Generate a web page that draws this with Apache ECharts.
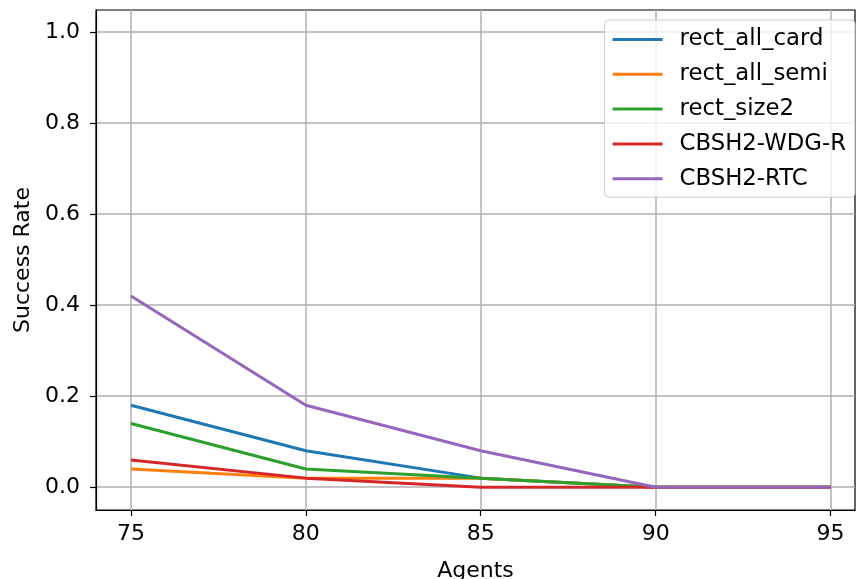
<!DOCTYPE html>
<html><head><meta charset="utf-8">
<script src="https://cdn.jsdelivr.net/npm/echarts@6/dist/echarts.min.js"></script>
<style>html,body{margin:0;padding:0;background:#fff}#c{width:856px;height:579px}</style>
</head><body><div id="c"></div>
<script>
const agents = [75, 80, 85, 90, 95];
const rectAllCard = [0.18, 0.08, 0.02, 0.0, 0.0];
const rectAllSemi = [0.04, 0.02, 0.02, 0.0, 0.0];
const rectSize2 = [0.14, 0.04, 0.02, 0.0, 0.0];
const cbsh2WdgR = [0.06, 0.02, 0.0, 0.0, 0.0];
const cbsh2Rtc = [0.42, 0.18, 0.08, 0.0, 0.0];
const xTicks = [75, 80, 85, 90, 95];
const yTicks = [0.0, 0.2, 0.4, 0.6, 0.8, 1.0];
const names = ['rect_all_card','rect_all_semi','rect_size2','CBSH2-WDG-R','CBSH2-RTC'];
const colors = ['#1f77b4','#ff7f0e','#2ca02c','#d62728','#9467bd'];
const values = [rectAllCard, rectAllSemi, rectSize2, cbsh2WdgR, cbsh2Rtc];
const font = 'DejaVu Sans';
const chart = echarts.init(document.getElementById('c'), null, {renderer:'canvas'});
chart.setOption({
  animation: false,
  textStyle: {fontFamily: font},
  grid: {left: 96, right: 1, top: 10, bottom: 69, show: true, borderColor: '#000', borderWidth: 1.2,
    containLabel: false, outerBoundsMode: 'none'},
  xAxis: {
    type: 'value', min: 74, max: 95.7,
    name: 'Agents', nameLocation: 'middle', nameGap: 50,
    nameTextStyle: {fontSize: 22, color: '#000', fontFamily: font},
    axisLine: {show: true, onZero: false, lineStyle: {color: '#000', width: 1.2}},
    axisTick: {show: true, length: 6, customValues: xTicks, lineStyle: {color: '#000', width: 1.2}},
    axisLabel: {customValues: xTicks, fontSize: 22, color: '#000', margin: 13, fontFamily: font},
    splitLine: {show: true, customValues: xTicks, lineStyle: {color: '#b0b0b0', width: 1.5}}
  },
  yAxis: {
    type: 'value', min: -0.05, max: 1.0483,
    name: 'Success Rate', nameLocation: 'middle', nameGap: 60, nameRotate: 90,
    nameTextStyle: {fontSize: 22, color: '#000', fontFamily: font},
    axisLine: {show: true, lineStyle: {color: '#000', width: 1.2}},
    axisTick: {show: true, length: 6, customValues: yTicks, lineStyle: {color: '#000', width: 1.2}},
    axisLabel: {customValues: yTicks, fontSize: 22, color: '#000', margin: 16, fontFamily: font,
      formatter: v => v.toFixed(1)},
    splitLine: {show: true, customValues: yTicks, lineStyle: {color: '#b0b0b0', width: 1.5}}
  },
  legend: {
    right: 1, top: 20, orient: 'vertical',
    backgroundColor: 'rgba(255,255,255,0.8)', borderColor: '#cccccc', borderWidth: 1, borderRadius: 4,
    padding: [8, 9, 7, 8], itemGap: 11.8, itemWidth: 50, itemHeight: 3, icon: 'rect',
    textStyle: {fontSize: 22.8, color: '#000', fontFamily: font, padding: [0,0,0,12]},
    data: names
  },
  series: names.map((n, i) => ({
    name: n, type: 'line', showSymbol: false, symbol: 'none',
    color: colors[i], lineStyle: {width: 3, color: colors[i]},
    data: agents.map((a, j) => [a, values[i][j]]), z: 2 + i
  }))
});
</script></body></html>
